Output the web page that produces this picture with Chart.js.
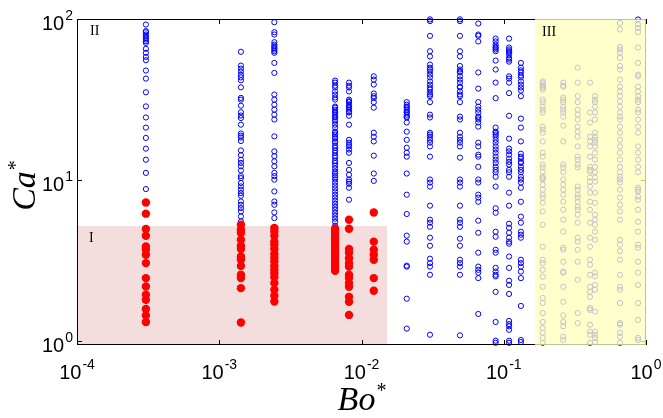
<!DOCTYPE html>
<html>
<head>
<meta charset="utf-8">
<script src="https://cdn.jsdelivr.net/npm/chart.js@4/dist/chart.umd.min.js"></script>
<style>
  html, body { margin: 0; padding: 0; background: #fff; }
  #wrap { width: 663px; height: 418px; }
</style>
</head>
<body>
<div id="wrap"><canvas id="chart" width="663" height="418"></canvas></div>
<script>
// Bo* of each measured column, open markers (Ca* above the red ones and the rest of the runs)
const boOpen = [3.05e-4, 1.42e-3, 2.44e-3, 6.52e-3, 8.17e-3, 1.22e-2, 2.08e-2, 3.03e-2, 4.92e-2, 6.62e-2, 8.77e-2, 0.109, 0.132];
const caOpen = [
  [92.4, 84.1, 82.8, 80.1, 78.2, 76.4, 74.6, 72.8, 71.1, 65.3, 61.7, 58.2, 55.5, 47.9, 42.7, 35.1, 28.7, 24.5, 21.2, 18.3, 15.7, 13.4, 11.1, 8.81],
  [62.6, 51.4, 49.2, 47.2, 45.0, 43.4, 41.7, 37.7, 32.4, 31.6, 29.0, 26.4, 25.2, 24.3, 22.1, 19.5, 18.9, 18.4, 17.5, 15.3, 14.3, 13.4, 12.8, 12.2, 11.5, 10.6, 10.3, 9.61, 9.15, 8.73, 8.32, 8.01, 7.38, 7.04, 6.72, 6.40, 5.96, 5.55],
  [95.5, 82.8, 80.1, 71.8, 69.4, 67.8, 66.2, 64.7, 63.1, 61.7, 53.4, 46.3, 34.0, 31.6, 29.4, 27.4, 25.5, 23.8, 18.7, 15.1, 14.1, 13.1, 12.2, 11.1, 10.6, 10.07, 8.52, 7.38, 7.04, 6.31, 5.82],
  [41.5, 40.3, 38.6, 37.6, 35.5, 34.0, 32.6, 31.6, 28.6, 28.2, 27.4, 26.6, 26.3, 25.5, 24.8, 24.5, 23.8, 23.1, 22.1, 21.2, 20.0, 19.7, 19.2, 18.6, 18.1, 17.4, 17.1, 16.4, 15.9, 15.3, 14.8, 14.2, 13.8, 13.2, 12.8, 12.3, 11.8, 11.3, 11.0, 10.7, 10.4, 10.1, 9.67, 9.27, 8.89, 8.51, 8.13, 7.80, 7.46, 7.14, 6.84, 6.56, 6.28, 6.02, 5.77, 5.52, 5.21, 4.93, 4.66, 4.40, 4.16, 3.92],
  [40.3, 38.6, 37.6, 35.5, 31.6, 30.9, 30.5, 29.4, 28.6, 28.2, 27.4, 26.6, 26.3, 25.1, 22.1, 17.8, 17.1, 16.6, 16.2, 15.5, 14.8, 12.8, 11.6, 10.8, 10.1, 9.8, 9.5, 8.98, 7.57],
  [44.1, 42.1, 39.2, 34.5, 33.2, 32.3, 30.5, 28.2, 19.7, 18.6, 17.4, 14.2, 11.0, 9.9],
  [30.5, 29.4, 28.6, 28.2, 27.4, 26.6, 26.3, 25.5, 24.8, 24.5, 22.8, 20.0, 17.8, 15.9, 14.8, 14.0, 11.0, 8.13, 6.17, 4.53, 4.16, 2.95, 2.91, 1.84, 1.20],
  [99.5, 97.0, 78.6, 63.1, 58.6, 52.2, 49.9, 48.6, 47.2, 45.2, 43.4, 41.0, 39.2, 37.6, 36.5, 35.0, 34.0, 33.2, 30.5, 25.5, 24.5, 19.7, 19.2, 18.6, 17.8, 17.1, 16.2, 14.0, 10.1, 9.67, 9.13, 6.95, 5.69, 5.45, 5.14, 4.40, 3.92, 3.26, 3.06, 2.91, 2.59, 1.10],
  [99.5, 97.0, 78.6, 63.1, 58.6, 51.1, 48.6, 47.2, 46.6, 44.1, 42.1, 40.3, 38.1, 37.6, 35.5, 34.0, 33.2, 30.5, 24.8, 23.8, 19.7, 18.6, 17.8, 17.1, 16.2, 13.8, 10.1, 9.67, 9.13, 6.95, 5.69, 5.45, 5.14, 4.34, 3.92, 3.21, 3.06, 2.91, 2.59, 1.09],
  [93.7, 80.1, 78.6, 72.6, 46.6, 37.0, 30.5, 28.6, 27.4, 26.3, 24.8, 24.5, 23.8, 22.8, 21.5, 17.1, 16.2, 14.4, 14.0, 12.1, 10.1, 9.67, 8.13, 7.80, 7.35, 5.61, 4.72, 3.55, 2.91, 2.78, 2.67, 2.47, 1.48],
  [75.6, 72.6, 69.4, 67.2, 66.2, 64.7, 63.1, 55.2, 48.6, 40.3, 32.3, 21.2, 20.0, 19.7, 19.2, 18.6, 17.8, 17.1, 16.2, 15.5, 14.8, 14.0, 13.4, 12.8, 12.1, 11.6, 11.2, 10.5, 9.13, 6.70, 6.28, 4.79, 4.46, 3.70, 3.55, 2.86, 2.71, 2.59, 2.53, 2.03, 1.32, 1.01, 0.98],
  [75.6, 66.5, 64.7, 63.1, 62.0, 60.2, 57.4, 56.0, 54.4, 44.1, 42.7, 40.3, 34.7, 25.1, 18.1, 15.7, 15.1, 14.4, 13.6, 13.0, 12.5, 11.6, 11.2, 10.5, 8.37, 6.95, 5.37, 5.07, 4.72, 4.40, 4.16, 4.04, 3.36, 2.86, 2.38, 2.24, 1.97, 1.34, 1.28, 1.24, 1.18, 1.01, 0.98],
  [53.4, 49.9, 48.0, 46.6, 44.7, 43.4, 41.0, 39.2, 37.6, 36.0, 33.2, 24.1, 21.2, 17.4, 14.6, 14.0, 13.6, 13.0, 12.8, 12.1, 11.6, 11.2, 10.5, 10.1, 9.67, 8.98, 7.35, 5.94, 5.45, 4.79, 4.59, 4.40, 3.21, 3.06, 2.91, 2.71, 2.47, 1.66, 1.02, 0.99]
];

// filled markers (regime I)
const boFilled = [3.05e-4, 1.42e-3, 2.44e-3, 6.52e-3, 8.17e-3, 1.22e-2];
const caFilled = [
  [7.28, 6.20, 4.98, 4.52, 3.88, 3.70, 3.45, 3.06, 2.47, 2.19, 1.95, 1.81, 1.59, 1.45, 1.32],
  [5.29, 4.93, 4.70, 4.27, 3.92, 3.74, 3.36, 3.21, 2.94, 2.59, 2.47, 2.14, 1.31],
  [5.05, 4.81, 4.52, 4.17, 3.98, 3.74, 3.49, 3.29, 3.13, 2.94, 2.78, 2.65, 2.50, 2.30, 2.09, 1.92, 1.77],
  [5.00, 4.79, 4.59, 4.40, 4.21, 4.04, 3.87, 3.70, 3.55, 3.40, 3.26, 3.12, 2.99, 2.86, 2.74],
  [5.69, 5.00, 3.74, 3.55, 3.28, 3.06, 2.91, 2.59, 2.47, 2.30, 2.18, 1.89, 1.76, 1.46],
  [6.30, 4.16, 3.70, 3.45, 3.21, 2.47, 2.06]
];

// open markers inside regime III (they end up under the yellow band)
const boHigh = [0.188, 0.262, 0.331, 0.404, 0.438, 0.656, 0.879];
const caHigh = [
  [41.0, 40.3, 39.2, 38.1, 37.6, 36.5, 31.6, 30.5, 28.6, 27.4, 26.3, 21.5, 20.6, 19.7, 17.4, 14.8, 14.0, 12.5, 12.0, 11.3, 10.5, 10.3, 10.1, 9.38, 8.73, 8.13, 7.80, 7.24, 6.40, 5.29, 3.87, 3.21, 3.06, 2.78, 2.52, 2.18, 1.86, 1.73, 1.50, 1.32, 1.21, 1.13, 1.05, 0.98],
  [40.3, 38.6, 38.1, 32.6, 31.6, 30.5, 28.6, 27.4, 26.3, 24.8, 21.8, 17.4, 12.5, 12.0, 11.2, 10.1, 9.38, 8.73, 8.13, 7.35, 6.56, 5.69, 4.79, 3.81, 3.70, 3.12, 2.71, 2.67, 2.18, 1.76, 1.45, 1.32, 1.24, 1.07, 1.02],
  [49.9, 40.3, 33.2, 30.5, 27.4, 25.5, 23.8, 21.5, 20.0, 18.6, 16.2, 14.0, 13.4, 12.5, 12.0, 9.13, 8.73, 8.13, 7.80, 7.35, 6.84, 6.56, 6.11, 5.45, 4.40, 4.16, 3.70, 3.12, 2.41, 1.50, 1.30],
  [40.3, 26.3, 22.8, 18.6, 17.4, 16.2, 14.0, 12.1, 11.6, 11.3, 10.4, 9.8, 9.13, 8.37, 7.35, 6.56, 5.45, 4.40, 3.87, 3.21, 2.99, 2.59, 2.18, 2.03, 1.89, 1.61, 1.57, 1.27, 1.15, 1.10, 0.98],
  [33.2, 31.6, 30.5, 28.6, 26.3, 23.8, 19.7, 18.6, 17.8, 17.1, 16.2, 14.8, 13.4, 12.1, 11.2, 10.4, 9.8, 8.37, 7.24, 6.11, 5.69, 5.29, 4.79, 4.27, 2.67, 2.53, 2.24, 2.09, 1.53, 1.15, 1.10, 1.05, 0.99],
  [94.4, 86.1, 67.2, 64.7, 62.0, 57.4, 51.1, 48.6, 42.1, 38.1, 35.5, 33.2, 30.9, 28.6, 26.3, 24.8, 23.8, 21.5, 19.7, 17.8, 16.2, 14.8, 13.4, 12.1, 11.2, 10.5, 10.1, 9.67, 8.73, 7.80, 7.04, 6.40, 5.69, 4.27, 3.98, 3.63, 3.21, 2.59, 2.18, 2.09, 1.73, 1.30, 1.27, 1.13, 1.07, 0.98],
  [99.3, 92.4, 88.1, 82.8, 66.5, 53.4, 45.2, 44.1, 38.1, 35.5, 33.2, 31.6, 30.5, 27.4, 26.3, 23.8, 21.5, 19.7, 16.2, 14.8, 13.4, 12.1, 11.2, 8.98, 8.73, 8.51, 7.91, 7.57, 6.56, 5.52, 4.79, 3.98, 3.81, 3.12, 2.67, 2.24, 1.73, 1.36, 1.05, 1.02]
];

// axes and regime boxes
const boTicks = [1e-4, 1e-3, 1e-2, 1e-1, 1];
const boTickExp = ['-4', '-3', '-2', '-1', '0'];
const caTicks = [1, 10, 100];
const caTickExp = ['0', '1', '2'];
const boRange = [1e-4, 1];
const caRange = [0.95, 100];
const regionIBo = [1e-4, 0.0151];
const regionICa = [0.95, 5.2];
const regionIIIBo = [0.166, 1];
const regionIIICa = [0.95, 100];

function toPoints(bos, cas) {
  const pts = [];
  bos.forEach((bo, i) => cas[i].forEach(ca => pts.push({x: bo, y: ca})));
  return pts;
}

function shade(chart, bo, ca, fill) {
  const xs = chart.scales.x, ys = chart.scales.y, ctx = chart.ctx;
  const x0 = xs.getPixelForValue(bo[0]), x1 = xs.getPixelForValue(bo[1]);
  const y0 = ys.getPixelForValue(ca[1]), y1 = ys.getPixelForValue(ca[0]);
  ctx.save();
  ctx.fillStyle = fill;
  ctx.fillRect(x0, y0, x1 - x0, y1 - y0);
  ctx.restore();
}

function drawBox(chart) {
  const a = chart.chartArea, ctx = chart.ctx;
  const xs = chart.scales.x, ys = chart.scales.y;
  ctx.save();
  ctx.strokeStyle = '#000';
  ctx.lineWidth = 1;
  ctx.strokeRect(a.left + 0.5, a.top + 0.5, a.right - a.left - 1, a.bottom - a.top - 1);
  ctx.beginPath();
  boTicks.forEach(v => {
    const x = Math.round(xs.getPixelForValue(v)) + 0.5;
    ctx.moveTo(x, a.bottom); ctx.lineTo(x, a.bottom - 5);
    ctx.moveTo(x, a.top); ctx.lineTo(x, a.top + 5);
  });
  caTicks.forEach(v => {
    const y = Math.round(ys.getPixelForValue(v)) + 0.5;
    ctx.moveTo(a.left, y); ctx.lineTo(a.left + 5, y);
    ctx.moveTo(a.right, y); ctx.lineTo(a.right - 5, y);
  });
  ctx.stroke();
  ctx.restore();
}

function drawPow(ctx, exp, x, y, align) {
  const base = '20px "Liberation Sans", Arial, sans-serif';
  const sup = '14px "Liberation Sans", Arial, sans-serif';
  ctx.font = base; const wb = ctx.measureText('10').width;
  ctx.font = sup; const we = ctx.measureText(exp).width;
  const total = wb + 1 + we;
  const left = align === 'center' ? x - total / 2 : x - total;
  ctx.textAlign = 'left';
  ctx.textBaseline = 'alphabetic';
  ctx.font = base; ctx.fillText('10', left, y);
  ctx.font = sup; ctx.fillText(exp, left + wb + 1, y - 10);
}

function drawLabels(chart) {
  const a = chart.chartArea, ctx = chart.ctx;
  const xs = chart.scales.x, ys = chart.scales.y;
  ctx.save();
  ctx.fillStyle = '#000';
  boTicks.forEach((v, i) => drawPow(ctx, boTickExp[i], xs.getPixelForValue(v), a.bottom + 34, 'center'));
  caTicks.forEach((v, i) => drawPow(ctx, caTickExp[i], a.left - 4, ys.getPixelForValue(v) + 10.5, 'right'));

  // axis titles
  const serif = '"Liberation Serif", "Times New Roman", serif';
  ctx.font = 'italic 34px ' + serif;
  const wBo = ctx.measureText('Bo').width;
  ctx.font = '20px ' + serif;
  const wStar = ctx.measureText('*').width;
  const cx = (a.left + a.right) / 2;
  let left = cx - (wBo + wStar) / 2;
  ctx.font = 'italic 34px ' + serif;
  ctx.fillText('Bo', left, a.bottom + 65);
  ctx.font = '20px ' + serif;
  ctx.fillText('*', left + wBo + 1, a.bottom + 52);

  ctx.translate(35, (a.top + a.bottom) / 2 + 4);
  ctx.rotate(-Math.PI / 2);
  ctx.font = 'italic 34px ' + serif;
  const wCa = ctx.measureText('Ca').width;
  left = -(wCa + wStar) / 2;
  ctx.fillText('Ca', left, 0);
  ctx.font = '20px ' + serif;
  ctx.fillText('*', left + wCa + 1, -13);
  ctx.restore();
}

function drawRegionNames(chart) {
  const a = chart.chartArea, ctx = chart.ctx;
  const xs = chart.scales.x, ys = chart.scales.y;
  ctx.save();
  ctx.fillStyle = '#000';
  ctx.font = '14px "Liberation Serif", "Times New Roman", serif';
  ctx.textAlign = 'left';
  ctx.fillText('I', a.left + 12, ys.getPixelForValue(regionICa[1]) + 16);
  ctx.fillText('II', a.left + 13, a.top + 16);
  ctx.fillText('III', xs.getPixelForValue(regionIIIBo[0]) + 7, a.top + 17);
  ctx.restore();
}

const regimes = {
  id: 'regimes',
  afterDatasetDraw(chart, args) {
    // pink band goes over the open markers but under the filled ones
    if (args.index === 1) shade(chart, regionIBo, regionICa, 'rgba(237,198,198,0.6)');
  },
  afterDatasetsDraw(chart) {
    drawBox(chart);
    shade(chart, regionIIIBo, regionIIICa, 'rgba(255,255,187,0.76)');
    drawRegionNames(chart);
  },
  afterDraw(chart) {
    drawLabels(chart);
  }
};

new Chart(document.getElementById('chart'), {
  type: 'scatter',
  data: {
    datasets: [
      {
        label: 'filled',
        data: toPoints(boFilled, caFilled),
        pointRadius: 4.2,
        pointBackgroundColor: '#ff0000',
        pointBorderColor: '#ff0000',
        pointBorderWidth: 0,
        clip: false
      },
      {
        label: 'open',
        data: toPoints(boOpen, caOpen).concat(toPoints(boHigh, caHigh)),
        pointRadius: 2.6,
        pointBackgroundColor: 'rgba(0,0,0,0)',
        pointBorderColor: '#0000ff',
        pointBorderWidth: 1,
        clip: false
      }
    ]
  },
  options: {
    responsive: false,
    animation: false,
    events: [],
    layout: { padding: { left: 77, right: 17, top: 19, bottom: 73 } },
    plugins: { legend: { display: false }, tooltip: { enabled: false } },
    scales: {
      x: { type: 'logarithmic', min: boRange[0], max: boRange[1], display: false },
      y: { type: 'logarithmic', min: caRange[0], max: caRange[1], display: false }
    }
  },
  plugins: [regimes]
});
</script>
</body>
</html>
